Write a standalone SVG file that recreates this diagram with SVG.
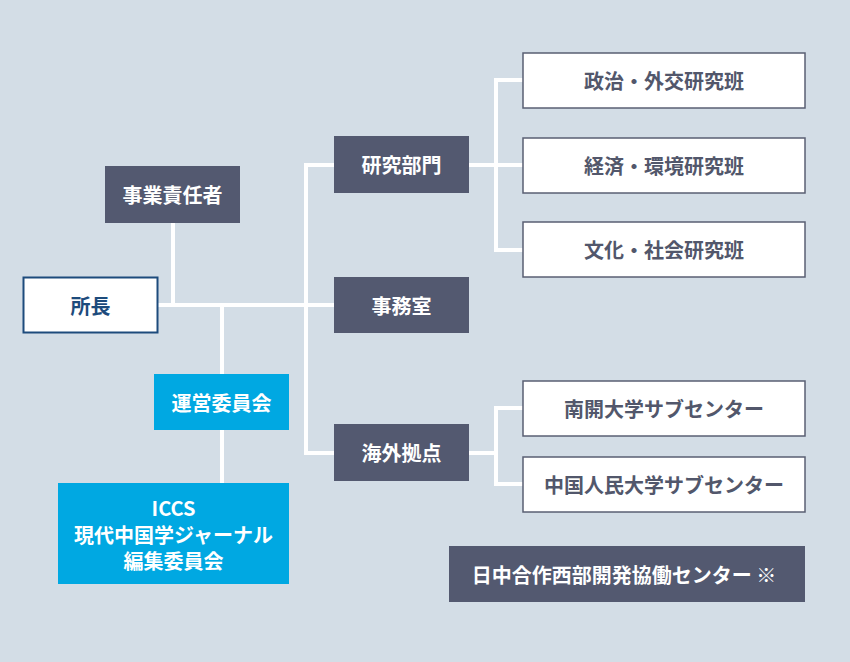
<svg xmlns="http://www.w3.org/2000/svg" width="850" height="662" viewBox="0 0 850 662">
<style>
text{font-family:"Noto Sans CJK JP","Noto Sans",sans-serif;font-weight:700;font-size:20px;text-anchor:middle;dominant-baseline:central}
.dark rect{fill:#535970}
.dark text{fill:#ffffff}
.white rect{fill:#ffffff;stroke:#5a5f73;stroke-width:1.5}
.white text{fill:#52576b}
.blue rect{fill:#00a8e2}
.blue text{fill:#ffffff}
.con path{fill:none;stroke:#ffffff;stroke-width:4}
</style>
<rect width="850" height="662" fill="#d3dde6"/>
<g class="con">
<path d="M173,223 V305"/>
<path d="M158,305 H334"/>
<path d="M222,305 V374"/>
<path d="M222,430 V483"/>
<path d="M334,165 H306 V453 H334"/>
<path d="M469,165 H523"/>
<path d="M523,80 H496 V250 H523"/>
<path d="M469,453 H496"/>
<path d="M523,408 H496 V484 H523"/>
</g>
<g id="jigyou" class="dark"><rect x="105" y="166" width="135" height="57"/><text x="172.5" y="194.5">事業責任者</text></g>
<g id="shocho"><rect x="23.5" y="277.5" width="134" height="55" fill="#ffffff" stroke="#1d4b7c" stroke-width="2"/><text x="90.5" y="305" fill="#1d4b7c">所長</text></g>
<g id="kenkyu" class="dark"><rect x="334" y="136" width="135" height="57"/><text x="401.5" y="164.5">研究部門</text></g>
<g id="jimu" class="dark"><rect x="334" y="277" width="135" height="56"/><text x="401.5" y="305">事務室</text></g>
<g id="kaigai" class="dark"><rect x="334" y="424" width="135" height="57"/><text x="401.5" y="452.5">海外拠点</text></g>
<g id="unei" class="blue"><rect x="154" y="374" width="135" height="56"/><text x="221.5" y="402">運営委員会</text></g>
<g id="iccs" class="blue"><rect x="58" y="483" width="231" height="101"/>
<text x="173.5" y="507.5">ICCS</text><text x="173.5" y="534">現代中国学ジャーナル</text><text x="173.5" y="560.5">編集委員会</text></g>
<g id="seiji" class="white"><rect x="523" y="53" width="282" height="55"/><text x="664" y="80.5">政治・外交研究班</text></g>
<g id="keizai" class="white"><rect x="523" y="138" width="282" height="55"/><text x="664" y="165.5">経済・環境研究班</text></g>
<g id="bunka" class="white"><rect x="523" y="222" width="282" height="55"/><text x="664" y="249.5">文化・社会研究班</text></g>
<g id="nankai" class="white"><rect x="523" y="381" width="282" height="55"/><text x="664" y="408.5">南開大学サブセンター</text></g>
<g id="renmin" class="white"><rect x="523" y="457" width="282" height="55"/><text x="664" y="484.5">中国人民大学サブセンター</text></g>
<g id="seibu" class="dark"><rect x="449" y="546" width="356" height="56"/><text x="624" y="574">日中合作西部開発協働センター ※</text></g>
</svg>
